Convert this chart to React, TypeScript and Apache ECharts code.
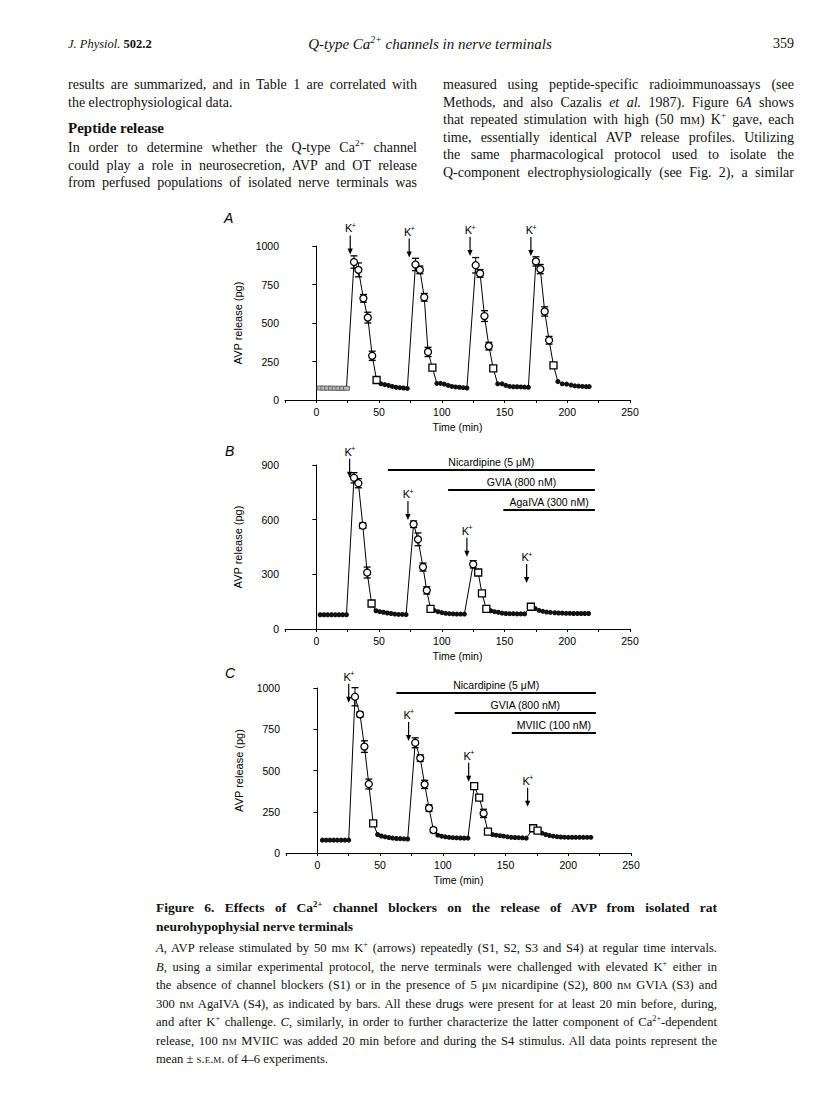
import React, { useEffect, useRef } from "react";
import * as echarts from "echarts";

// ---------------- Panel A data ----------------
const timeA = [3, 6, 9, 12, 15, 18, 21, 24, 30, 33.5, 37.5, 41, 44.5, 48, 51.5, 54.5, 57.5, 60.5, 63.5, 66.5, 69.5, 72.5,
  79, 82.5, 86, 89, 92.5, 96, 99, 102, 105, 108, 111, 114, 117, 120,
  127, 130.5, 134, 137.5, 141, 144.5, 148, 151, 154, 157, 160, 163, 166, 169,
  175, 178.5, 182, 185.5, 189, 192.5, 196, 199.5, 203, 206, 209, 212, 215, 217.5];
const avpA = [78, 77, 77, 77, 76, 76, 76, 76, 896, 845, 660, 535, 287, 130, 105, 100, 95, 88, 83, 80, 78, 75,
  880, 845, 667, 312, 210, 108, 108, 103, 95, 88, 85, 83, 80, 78,
  875, 822, 545, 350, 205, 105, 105, 95, 88, 86, 86, 85, 84, 83,
  900, 850, 575, 388, 225, 120, 105, 103, 97, 92, 90, 88, 87, 87];
const semA = [0, 0, 0, 0, 0, 0, 0, 0, 40, 45, 25, 35, 30, 10, 0, 0, 0, 0, 0, 0, 0, 0,
  40, 25, 25, 30, 8, 0, 0, 0, 0, 0, 0, 0, 0, 0,
  50, 25, 35, 25, 8, 0, 0, 0, 0, 0, 0, 0, 0, 0,
  30, 30, 30, 25, 8, 0, 0, 0, 0, 0, 0, 0, 0, 0];
// symbol: g = grey square, f = filled circle, o = open circle, s = open square
const symA = ["g", "g", "g", "g", "g", "g", "g", "g", "o", "o", "o", "o", "o", "s", "f", "f", "f", "f", "f", "f", "f", "f",
  "o", "o", "o", "o", "s", "f", "f", "f", "f", "f", "f", "f", "f", "f",
  "o", "o", "o", "o", "s", "f", "f", "f", "f", "f", "f", "f", "f", "f",
  "o", "o", "o", "o", "s", "f", "f", "f", "f", "f", "f", "f", "f", "f"];
const arrowTimeA = [27, 74, 122.5, 171];
const arrowTipA = [945, 925, 935, 935];

// ---------------- Panel B data ----------------
const timeB = [3, 6, 9, 12, 15, 18, 21, 24, 30, 33.5, 37, 40.5, 44, 47.5, 50.5, 53.5, 56.5, 59.5, 62.5, 65.5, 68.5, 71.5,
  77.5, 81, 85, 88, 91, 94, 97, 100, 103, 106, 109, 112, 115, 118,
  125, 129, 132, 135.5, 139, 142, 145, 148, 151, 154, 157, 160, 163, 166,
  171, 174.5, 177.5, 180.5, 183.5, 186.5, 190, 193, 196, 199, 202, 205, 208, 211, 214, 217];
const avpB = [78, 78, 78, 78, 78, 78, 78, 78, 830, 800, 567, 310, 140, 100, 95, 92, 88, 85, 82, 80, 80, 79,
  575, 492, 340, 212, 110, 102, 95, 90, 86, 84, 83, 82, 82, 82,
  355, 310, 195, 110, 100, 95, 92, 87, 85, 84, 84, 83, 83, 83,
  122, 112, 102, 97, 93, 91, 89, 88, 87, 86, 86, 85, 85, 85, 85, 85];
const semB = [0, 0, 0, 0, 0, 0, 0, 0, 28, 25, 15, 30, 15, 0, 0, 0, 0, 0, 0, 0, 0, 0,
  18, 35, 22, 20, 5, 0, 0, 0, 0, 0, 0, 0, 0, 0,
  20, 6, 15, 5, 0, 0, 0, 0, 0, 0, 0, 0, 0, 0,
  5, 0, 0, 0, 0, 0, 0, 0, 0, 0, 0, 0, 0, 0, 0, 0];
const symB = ["f", "f", "f", "f", "f", "f", "f", "f", "o", "o", "o", "o", "s", "f", "f", "f", "f", "f", "f", "f", "f", "f",
  "o", "o", "o", "o", "s", "f", "f", "f", "f", "f", "f", "f", "f", "f",
  "o", "s", "s", "s", "f", "f", "f", "f", "f", "f", "f", "f", "f", "f",
  "s", "f", "f", "f", "f", "f", "f", "f", "f", "f", "f", "f", "f", "f", "f", "f"];
const arrowTimeB = [26.5, 73, 120, 167.6];
const arrowTipB = [830, 598, 397, 252];
const drugNamesB = ["Nicardipine (5 \u03bcM)", "GVIA (800 nM)", "AgaIVA (300 nM)"];
const drugStartB = [57, 105, 149];
const drugEndB = [222, 222, 222];

// ---------------- Panel C data ----------------
const timeC = [4, 7, 10, 13, 16, 19, 22, 25, 30, 34, 37.5, 41, 44.5, 48, 51, 54, 57, 60, 63, 66, 69, 72,
  78, 82, 85.5, 89, 92.5, 96, 99, 102, 105, 108, 111, 114, 117, 120,
  125, 129, 132.5, 136, 139.5, 142.5, 145.5, 148.5, 151.5, 154.5, 157.5, 160.5, 163.5, 166.5,
  172, 175.5, 179, 182, 185, 188, 191, 194, 197, 200, 203, 206, 209, 212, 215, 218];
const avpC = [78, 78, 78, 78, 78, 78, 78, 78, 947, 840, 645, 418, 180, 112, 103, 98, 94, 90, 88, 87, 86, 85,
  668, 575, 416, 272, 139, 108, 102, 98, 95, 93, 92, 91, 90, 90,
  405, 335, 240, 130, 112, 108, 105, 102, 98, 95, 94, 93, 92, 90,
  150, 135, 120, 112, 106, 102, 99, 97, 96, 95, 95, 95, 95, 95, 95, 95];
const semC = [0, 0, 0, 0, 0, 0, 0, 0, 55, 15, 35, 30, 15, 0, 0, 0, 0, 0, 0, 0, 0, 0,
  30, 20, 25, 20, 15, 0, 0, 0, 0, 0, 0, 0, 0, 0,
  15, 10, 25, 5, 0, 0, 0, 0, 0, 0, 0, 0, 0, 0,
  6, 5, 0, 0, 0, 0, 0, 0, 0, 0, 0, 0, 0, 0, 0, 0];
const symC = ["f", "f", "f", "f", "f", "f", "f", "f", "o", "o", "o", "o", "s", "f", "f", "f", "f", "f", "f", "f", "f", "f",
  "o", "o", "o", "o", "o", "f", "f", "f", "f", "f", "f", "f", "f", "f",
  "s", "s", "o", "s", "f", "f", "f", "f", "f", "f", "f", "f", "f", "f",
  "s", "s", "f", "f", "f", "f", "f", "f", "f", "f", "f", "f", "f", "f", "f", "f"];
const arrowTimeC = [25, 72.7, 120.6, 167.6];
const arrowTipC = [911, 679, 432, 281];
const drugNamesC = ["Nicardipine (5 \u03bcM)", "GVIA (800 nM)", "MVIIC (100 nM)"];
const drugStartC = [63, 109.5, 155];
const drugEndC = [222, 222, 222];

// axis ticks
const xMin = -25;
const xMax = 250;
const xStep = 25;
const yMaxA = 1000, yStepA = 250;
const yMaxB = 900, yStepB = 300;
const yMaxC = 1000, yStepC = 250;

const SANS = "'Liberation Sans', Arial, Helvetica, sans-serif";
const SERIF = "'Liberation Serif', 'Times New Roman', serif";

function buildPanel(idx: number, times: number[], vals: number[], sems: number[], syms: string[],
  arrT: number[], arrV: number[], yMax: number,
  drugNames?: string[], drugStart?: number[], drugEnd?: number[]) {
  const pts = times.map((t, i) => [t, vals[i]]);
  const pick = (k: string) => times.map((t, i) => (syms[i] === k ? [t, vals[i]] : null)).filter(Boolean);
  const errs = times.map((t, i) => (sems[i] > 0 ? [t, vals[i], sems[i]] : null)).filter(Boolean);
  const common = { xAxisIndex: idx, yAxisIndex: idx };
  const series: any[] = [
    { ...common, type: "line", data: pts, showSymbol: false, symbol: "none", lineStyle: { color: "#000", width: 1 }, z: 1, silent: true },
    {
      ...common, type: "custom", data: errs, z: 2, silent: true, clip: false,
      renderItem: (_p: any, api: any) => {
        const x = api.value(0), y = api.value(1), e = api.value(2);
        const top = api.coord([x, y + e]);
        const bot = api.coord([x, y - e]);
        const w = 3.5;
        const st = { stroke: "#000", lineWidth: 1 };
        return {
          type: "group", children: [
            { type: "line", shape: { x1: top[0], y1: top[1], x2: bot[0], y2: bot[1] }, style: st },
            { type: "line", shape: { x1: top[0] - w, y1: top[1], x2: top[0] + w, y2: top[1] }, style: { stroke: "#000", lineWidth: 1.3 } },
            { type: "line", shape: { x1: bot[0] - w, y1: bot[1], x2: bot[0] + w, y2: bot[1] }, style: { stroke: "#000", lineWidth: 1.3 } },
          ],
        };
      },
    },
    { ...common, type: "scatter", data: pick("f"), symbol: "circle", symbolSize: 5, itemStyle: { color: "#111", opacity: 1 }, z: 3, silent: true },
    { ...common, type: "scatter", data: pick("g"), symbol: "rect", symbolSize: [6, 4], itemStyle: { color: "#bbb", borderColor: "#555", borderWidth: 0.8, opacity: 1 }, z: 3, silent: true },
    { ...common, type: "scatter", data: pick("o"), symbol: "circle", symbolSize: 7, itemStyle: { color: "#fff", borderColor: "#000", borderWidth: 1.3, opacity: 1 }, z: 3, silent: true },
    { ...common, type: "scatter", data: pick("s"), symbol: "rect", symbolSize: 7, itemStyle: { color: "#fff", borderColor: "#000", borderWidth: 1.3, opacity: 1 }, z: 3, silent: true },
    {
      ...common, type: "custom", data: arrT.map((t, i) => [t, arrV[i]]), z: 4, silent: true, clip: false,
      renderItem: (_p: any, api: any) => {
        const p = api.coord([api.value(0), api.value(1)]);
        return {
          type: "group", children: [
            { type: "line", shape: { x1: p[0], y1: p[1] - 19, x2: p[0], y2: p[1] - 4 }, style: { stroke: "#000", lineWidth: 1.2 } },
            { type: "polygon", shape: { points: [[p[0] - 2.6, p[1] - 6], [p[0] + 2.6, p[1] - 6], [p[0], p[1]]] }, style: { fill: "#000" } },
            { type: "text", x: p[0] - 1.5, y: p[1] - 26, style: { text: "K", fontSize: 11, fontFamily: SANS, fill: "#000", align: "center", verticalAlign: "middle" } },
            { type: "text", x: p[0] + 3.6, y: p[1] - 29, style: { text: "+", fontSize: 7, fontFamily: SANS, fill: "#000", align: "center", verticalAlign: "middle" } },
          ],
        };
      },
    },
  ];
  if (drugNames && drugStart && drugEnd) {
    series.push({
      ...common, type: "custom", z: 4, silent: true, clip: false,
      data: drugNames.map((_n, i) => [drugStart[i], drugEnd[i], i]),
      renderItem: (params: any, api: any) => {
        const s = api.coord([api.value(0), yMax]);
        const e = api.coord([api.value(1), yMax]);
        const lvl = api.value(2);
        const y = s[1] + 5 + lvl * 20;
        return {
          type: "group", children: [
            { type: "rect", shape: { x: s[0], y: y - 0.9, width: e[0] - s[0], height: 1.8 }, style: { fill: "#000" } },
            { type: "text", x: (s[0] + e[0]) / 2, y: y - 8, style: { text: drugNames[params.dataIndex], fontSize: 10.5, fontFamily: SANS, fill: "#000", align: "center", verticalAlign: "middle" } },
          ],
        };
      },
    });
  }
  return series;
}

function axisPair(idx: number, yMax: number, yStep: number) {
  const x = {
    gridIndex: idx, type: "value", min: xMin, max: xMax, interval: xStep,
    axisLine: { show: true, onZero: false, lineStyle: { color: "#000", width: 1 } },
    axisTick: { show: true, length: 3, lineStyle: { color: "#000" } },
    axisLabel: {
      color: "#000", fontSize: 10.5, fontFamily: SANS, margin: 6,
      formatter: (v: number) => (v >= 0 && v % 50 === 0 ? String(v) : ""),
    },
    splitLine: { show: false },
    name: "Time (min)", nameLocation: "middle", nameGap: 21,
    nameTextStyle: { color: "#000", fontSize: 10.5, fontFamily: SANS },
  };
  const y = {
    gridIndex: idx, type: "value", min: 0, max: yMax, interval: yStep,
    axisLine: { show: true, lineStyle: { color: "#000", width: 1 } },
    axisTick: { show: true, length: 4, lineStyle: { color: "#000" } },
    axisLabel: { color: "#000", fontSize: 10.5, fontFamily: SANS, margin: 6, formatter: (v: number) => String(v) },
    splitLine: { show: false },
    name: "AVP release (pg)", nameLocation: "middle", nameRotate: 90, nameGap: 42,
    nameTextStyle: { color: "#000", fontSize: 11, fontFamily: SANS },
  };
  return { x, y };
}

function Chart() {
  const ref = useRef<HTMLDivElement>(null);
  useEffect(() => {
    if (!ref.current) return;
    const chart = echarts.init(ref.current, undefined, { renderer: "svg" });
    const a = axisPair(0, yMaxA, yStepA);
    const b = axisPair(1, yMaxB, yStepB);
    const c = axisPair(2, yMaxC, yStepC);
    const option: any = {
      animation: false,
      backgroundColor: "transparent",
      grid: [
        { left: 285, top: 246, width: 345, height: 154, containLabel: false },
        { left: 285, top: 465, width: 345, height: 164, containLabel: false },
        { left: 286, top: 688, width: 345, height: 165, containLabel: false },
      ],
      xAxis: [a.x, b.x, c.x],
      yAxis: [a.y, b.y, c.y],
      series: [
        ...buildPanel(0, timeA, avpA, semA, symA, arrowTimeA, arrowTipA, yMaxA),
        ...buildPanel(1, timeB, avpB, semB, symB, arrowTimeB, arrowTipB, yMaxB, drugNamesB, drugStartB, drugEndB),
        ...buildPanel(2, timeC, avpC, semC, symC, arrowTimeC, arrowTipC, yMaxC, drugNamesC, drugStartC, drugEndC),
      ],
      graphic: [
        { type: "text", left: 224, top: 211, style: { text: "A", fontSize: 14, fontStyle: "italic", fontFamily: SANS, fill: "#000" } },
        { type: "text", left: 225, top: 444, style: { text: "B", fontSize: 14, fontStyle: "italic", fontFamily: SANS, fill: "#000" } },
        { type: "text", left: 225, top: 666, style: { text: "C", fontSize: 14, fontStyle: "italic", fontFamily: SANS, fill: "#000" } },
      ],
    };
    chart.setOption(option);
    return () => chart.dispose();
  }, []);
  return <div ref={ref} style={{ position: "absolute", left: 0, top: 0, width: 816, height: 1110 }} />;
}

const sup = (t: string) => <sup style={{ fontSize: "0.65em", lineHeight: 0 }}>{t}</sup>;
const sc = (t: string) => <span style={{ fontVariant: "small-caps" }}>{t}</span>;

function TLine(props: { x: number; y: number; w: number; j?: boolean; size?: number; bold?: boolean; children: any }) {
  const { x, y, w, j = true, size = 14, bold = false, children } = props;
  return (
    <div style={{
      position: "absolute", left: x, top: y - 10, width: w, height: 20, lineHeight: "20px",
      fontFamily: SERIF, fontSize: size, fontWeight: bold ? "bold" : "normal", color: "#111",
      textAlign: j ? "justify" : "left", textAlignLast: j ? "justify" : "left", whiteSpace: "nowrap",
    }}>{children}</div>
  );
}

export default function App() {
  const LX = 68, LW = 349, RX = 443, RW = 351;
  const CX = 156, CW = 561, CS = 12.6;
  const cy0 = 908, cdy = 18.5;
  return (
    <div style={{ position: "absolute", left: 0, top: 0, width: 816, height: 1110, background: "#fff", overflow: "hidden" }}>
      <Chart />
      <div style={{ position: "absolute", left: 0, top: 0, width: 816, height: 1110, pointerEvents: "none" }}>
        <TLine x={LX} y={44} w={200} j={false} size={12.5}><i>J. Physiol.</i> <b>502.2</b></TLine>
        <div style={{ position: "absolute", left: 230, top: 34, width: 400, textAlign: "center", fontFamily: SERIF, fontStyle: "italic", fontSize: 15, lineHeight: "20px", color: "#111" }}>
          Q-type Ca{sup("2+")} channels in nerve terminals
        </div>
        <div style={{ position: "absolute", left: 694, top: 34, width: 100, textAlign: "right", fontFamily: SERIF, fontSize: 14, lineHeight: "20px", color: "#111" }}>359</div>

        <TLine x={LX} y={85} w={LW}>results are summarized, and in Table 1 are correlated with</TLine>
        <TLine x={LX} y={102.5} w={LW} j={false}>the electrophysiological data.</TLine>
        <TLine x={LX} y={128} w={LW} j={false} size={15} bold>Peptide release</TLine>
        <TLine x={LX} y={148} w={LW}>In order to determine whether the Q-type Ca{sup("2+")} channel</TLine>
        <TLine x={LX} y={165.5} w={LW}>could play a role in neurosecretion, AVP and OT release</TLine>
        <TLine x={LX} y={183} w={LW}>from perfused populations of isolated nerve terminals was</TLine>

        <TLine x={RX} y={85} w={RW}>measured using peptide-specific radioimmunoassays (see</TLine>
        <TLine x={RX} y={102.5} w={RW}>Methods, and also Cazalis <i>et al.</i> 1987). Figure 6<i>A</i> shows</TLine>
        <TLine x={RX} y={120} w={RW}>that repeated stimulation with high (50 m{sc("m")}) K{sup("+")} gave, each</TLine>
        <TLine x={RX} y={137.5} w={RW}>time, essentially identical AVP release profiles. Utilizing</TLine>
        <TLine x={RX} y={155} w={RW}>the same pharmacological protocol used to isolate the</TLine>
        <TLine x={RX} y={172.5} w={RW}>Q-component electrophysiologically (see Fig. 2), a similar</TLine>

        <TLine x={CX} y={cy0} w={CW} size={13.5} bold>Figure 6. Effects of Ca{sup("2+")} channel blockers on the release of AVP from isolated rat</TLine>
        <TLine x={CX} y={cy0 + cdy} w={CW} j={false} size={13.5} bold>neurohypophysial nerve terminals</TLine>
        <TLine x={CX} y={cy0 + cdy * 2 + 3} w={CW} size={CS}><i>A</i>, AVP release stimulated by 50 m{sc("m")} K{sup("+")} (arrows) repeatedly (S1, S2, S3 and S4) at regular time intervals.</TLine>
        <TLine x={CX} y={cy0 + cdy * 3 + 3} w={CW} size={CS}><i>B</i>, using a similar experimental protocol, the nerve terminals were challenged with elevated K{sup("+")} either in</TLine>
        <TLine x={CX} y={cy0 + cdy * 4 + 3} w={CW} size={CS}>the absence of channel blockers (S1) or in the presence of 5 {"\u03bc"}{sc("m")} nicardipine (S2), 800 n{sc("m")} GVIA (S3) and</TLine>
        <TLine x={CX} y={cy0 + cdy * 5 + 3} w={CW} size={CS}>300 n{sc("m")} AgaIVA (S4), as indicated by bars. All these drugs were present for at least 20 min before, during,</TLine>
        <TLine x={CX} y={cy0 + cdy * 6 + 3} w={CW} size={CS}>and after K{sup("+")} challenge. <i>C</i>, similarly, in order to further characterize the latter component of Ca{sup("2+")}-dependent</TLine>
        <TLine x={CX} y={cy0 + cdy * 7 + 3} w={CW} size={CS}>release, 100 n{sc("m")} MVIIC was added 20 min before and during the S4 stimulus. All data points represent the</TLine>
        <TLine x={CX} y={cy0 + cdy * 8 + 3} w={CW} j={false} size={CS}>mean ± {sc("s.e.m.")} of 4–6 experiments.</TLine>
      </div>
    </div>
  );
}
